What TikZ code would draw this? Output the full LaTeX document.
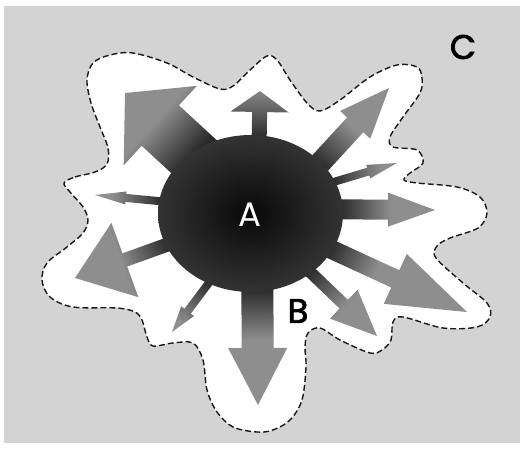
\documentclass[tikz,border=0pt]{standalone}
\usepackage{fontspec}
\setmainfont{Poppins}
\newfontfamily\popmed[FakeBold=2.2]{Poppins}
\usetikzlibrary{calc}
\definecolor{bg}{RGB}{211,211,211}
\definecolor{ag}{RGB}{142,142,142}
\definecolor{ad}{RGB}{42,42,42}
% base x, base y, tip x, tip y, shaft width, head width, head length, id
\newcommand\shadedarrow[8]{%
  \pgfmathsetmacro\alen{veclen(#3-#1,#4-#2)}%
  \pgfmathsetmacro\aang{atan2(-(#4-#2),#3-#1)}%
  \pgfmathsetmacro\ahb{\alen-#7}%
  \pgfmathsetmacro\aU{(#3-#1)/\alen*100/92.5}%
  \pgfmathsetmacro\aV{(#4-#2)/\alen*100/78.5}%
  \pgfmathsetmacro\aX{(#1-250.5)/92.5}%
  \pgfmathsetmacro\aY{(#2-213.5)/78.5}%
  \pgfmathsetmacro\aa{\aU*\aU+\aV*\aV}%
  \pgfmathsetmacro\ab{2*(\aX*\aU+\aY*\aV)}%
  \pgfmathsetmacro\ac{\aX*\aX+\aY*\aY-1}%
  \pgfmathsetmacro\at{100*(-\ab+sqrt(\ab*\ab-4*\aa*\ac))/(2*\aa)}%
  \pgfmathsetmacro\pa{max(1,25+50*(\at-3)/\alen)}%
  \pgfmathsetmacro\pb{min(99,25+50*(\at+48)/\alen)}%
  \edef\tmpdecl{\noexpand\pgfdeclarehorizontalshading{arrsh#8}{100bp}{color(0bp)=(ad); color(\pa bp)=(ad); color(\pb bp)=(ag); color(100bp)=(ag)}}%
  \tmpdecl
  \begin{scope}[transform canvas={shift={(#1,#2)},rotate=\aang}]
    \shade[shading=arrsh#8] (0,#5/2) -- (\ahb,#5/2) -- (\ahb,#6/2) -- (\alen,0)
      -- (\ahb,-#6/2) -- (\ahb,-#5/2) -- (0,-#5/2) -- cycle;
  \end{scope}}
\tikzset{
  blob/.style={fill=white, draw=black!90, line width=1.4pt, dash pattern=on 6pt off 3pt},
  lbl/.style={inner sep=0pt, font=\fontsize{34}{34}\selectfont}
}
\begin{document}
\begin{tikzpicture}[x=1pt,y=-1pt]
\useasboundingbox (0,0) rectangle (520,449);
\fill[white] (0,0) rectangle (520,449);
\fill[bg] (4,6) rectangle (520,443);
% white region with dashed outline
\draw[blob] plot[smooth cycle, tension=0.55] coordinates {
 (64,183) (75,177) (95,172) (107,164) (108,148) (100,127) (91,103) (87,80)
 (93,63) (110,55) (133,53) (167,63) (193,77) (220,89) (233,86) (250,70)
 (267,56) (277,60) (290,80) (307,103) (320,111) (340,100) (370,77) (397,65)
 (417,67) (422,78) (420,93) (403,117) (390,137) (393,147) (417,150) (423,163)
 (410,173) (404,180) (417,183) (457,187) (480,197) (487,213) (478,228)
 (450,238) (437,246) (436,258) (463,283) (487,303) (490,317) (477,327)
 (443,328) (403,317) (393,322) (391,340) (382,350) (370,353) (340,340)
 (320,328) (308,333) (305,347) (306,367) (302,400) (290,420) (273,430)
 (257,432) (233,427) (217,412) (207,390) (203,360) (193,343) (173,343)
 (153,346) (147,337) (142,320) (135,312) (117,308) (73,307) (50,297)
 (42,280) (47,263) (67,247) (83,233) (88,220) (83,207) (70,192)};
% arrows
\shadedarrow{258}{205}{260}{91}{15}{58}{21}{a}
\shadedarrow{215}{176}{125}{93}{55}{108}{48}{b}
\shadedarrow{277}{210}{389}{88}{22}{41}{50}{c}
\shadedarrow{300}{192}{397}{163}{8}{14}{30}{d}
\shadedarrow{290}{209}{435}{210}{20}{34}{47}{e}
\shadedarrow{285}{228}{467}{312}{19}{55}{79}{f}
\shadedarrow{283}{246}{377}{336}{12}{40}{46}{g}
\shadedarrow{257}{225}{258}{405}{32}{59}{57}{h}
\shadedarrow{226}{260}{172}{332}{8}{16}{26}{i}
\shadedarrow{205}{231}{75}{278}{14}{79}{53}{j}
\shadedarrow{200}{205}{95}{195}{8}{13}{31}{k}
% central body
\shade[inner color=black!97, outer color=black!80] (250.5,213.5) ellipse [x radius=92.5pt, y radius=78.5pt];
\node[lbl, text=white] (A) at (250,215) {A};
\node[lbl, font=\fontsize{34}{34}\popmed] (B) at (298,311) {B};
\node[lbl, font=\fontsize{34}{34}\popmed] (C) at (463,47) {C};
\end{tikzpicture}
\end{document}
